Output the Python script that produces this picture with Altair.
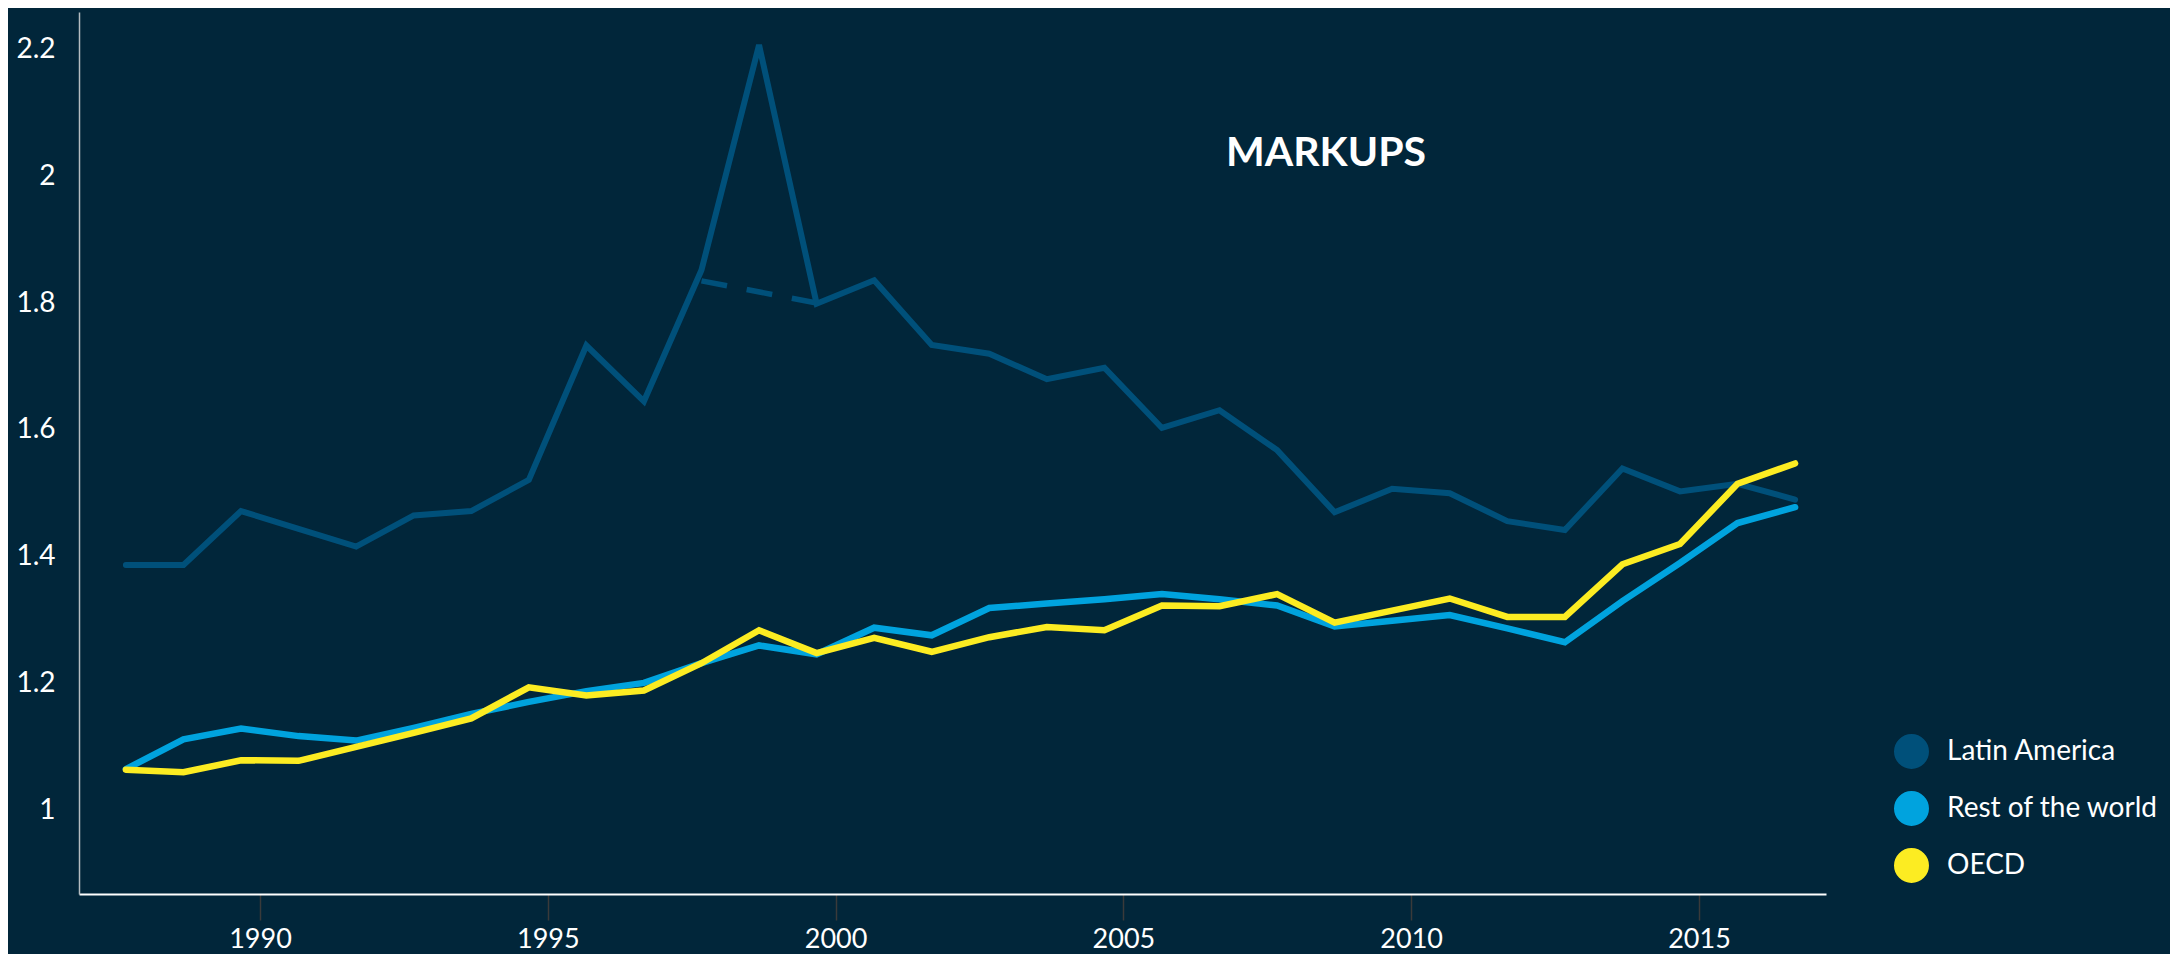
import altair as alt
import pandas as pd

years = list(range(1988, 2018))
latin_america = [1.387, 1.387, 1.472, 1.444, 1.416, 1.465, 1.472, 1.521, 1.733, 1.645,
                 1.852, 2.207, 1.799, 1.836, 1.734, 1.720, 1.680, 1.698, 1.603, 1.631,
                 1.568, 1.470, 1.507, 1.500, 1.456, 1.442, 1.539, 1.503, 1.515, 1.490]
rest_of_world = [1.065, 1.112, 1.129, 1.117, 1.110, 1.130, 1.152, 1.171, 1.188, 1.201,
                 1.232, 1.260, 1.246, 1.288, 1.276, 1.319, 1.326, 1.333, 1.341, 1.333,
                 1.323, 1.290, 1.299, 1.308, 1.287, 1.265, 1.330, 1.390, 1.453, 1.478]
oecd = [1.064, 1.060, 1.079, 1.078, 1.100, 1.122, 1.145, 1.194, 1.181, 1.189,
        1.232, 1.284, 1.248, 1.272, 1.250, 1.273, 1.289, 1.284, 1.323, 1.322,
        1.341, 1.296, 1.315, 1.334, 1.305, 1.305, 1.388, 1.420, 1.515, 1.547]
dash_years = [1998, 2000]
dash_values = [1.835, 1.800]

series_names = ["Latin America", "Rest of the world", "OECD"]
series_colors = ["#00507a", "#00a3de", "#fcec22"]
tick_years = [1990, 1995, 2000, 2005, 2010, 2015]
y_ticks = [1, 1.2, 1.4, 1.6, 1.8, 2, 2.2]
title_text = "MARKUPS"

rows = []
for name, vals in zip(series_names, [latin_america, rest_of_world, oecd]):
    for yr, v in zip(years, vals):
        rows.append({"year": yr, "value": v, "series": name})
df = pd.DataFrame(rows)
dash_df = pd.DataFrame({"year": dash_years, "value": dash_values})
title_df = pd.DataFrame({"t": [title_text]})

FONT = "Lato"
BG = "#01263a"

x_enc = alt.X(
    "year:Q",
    scale=alt.Scale(domain=[1987.185, 2017.537], nice=False, zero=False),
    axis=alt.Axis(
        title=None, grid=False,
        values=[t + 0.33 for t in tick_years],
        labelExpr="'' + floor(datum.value)",
        domainColor="#ffffff", domainWidth=2,
        tickColor="#3a3a3a", tickSize=26, tickWidth=1.5,
        labelFont=FONT, labelFontSize=27, labelColor="#ffffff",
        labelPadding=6, labelFlush=False,
    ),
)
y_enc = alt.Y(
    "value:Q",
    scale=alt.Scale(domain=[0.868, 2.259], nice=False, zero=False),
    axis=alt.Axis(
        title=None, grid=False, values=y_ticks, format="~g",
        ticks=False, domainColor="#b4bcc0", domainWidth=1.5,
        labelFont=FONT, labelFontSize=28, labelColor="#ffffff",
        labelPadding=24, labelFlush=False,
    ),
)
color_enc = alt.Color(
    "series:N",
    scale=alt.Scale(domain=series_names, range=series_colors),
    legend=alt.Legend(
        title=None, orient="none", legendX=1815, legendY=722,
        symbolType="circle", symbolSize=306, symbolStrokeWidth=17.5,
        labelFont=FONT, labelFontSize=28, labelColor="#ffffff",
        labelLimit=400, clipHeight=35,
        labelOffset=18, rowPadding=22, padding=0,
    ),
)

base = alt.Chart(df).encode(x=x_enc, y=y_enc, color=color_enc)

la_line = base.transform_filter(alt.datum.series == "Latin America").mark_line(
    strokeWidth=6, strokeCap="round")
row_line = base.transform_filter(alt.datum.series == "Rest of the world").mark_line(
    strokeWidth=6.5, strokeCap="round")
oecd_line = base.transform_filter(alt.datum.series == "OECD").mark_line(
    strokeWidth=6.5, strokeCap="round")

dash_line = alt.Chart(dash_df).mark_line(
    strokeWidth=5.5, strokeDash=[26, 20], color=series_colors[0]
).encode(x=x_enc, y=y_enc)

title = alt.Chart(title_df).mark_text(
    font=FONT, fontSize=41, fontWeight="bold", color="#ffffff",
    align="center", baseline="middle",
).encode(text="t:N", x=alt.value(1247), y=alt.value(142))

chart = alt.layer(la_line, dash_line, row_line, oecd_line, title).properties(
    width=1747, height=882,
    autosize=alt.AutoSizeParams(type="none"),
    padding={"left": 71, "top": 4, "right": 344, "bottom": 60},
).configure(background=BG).configure_view(stroke=None)

chart.save("out.html", embed_options={"renderer": "svg", "actions": False})
